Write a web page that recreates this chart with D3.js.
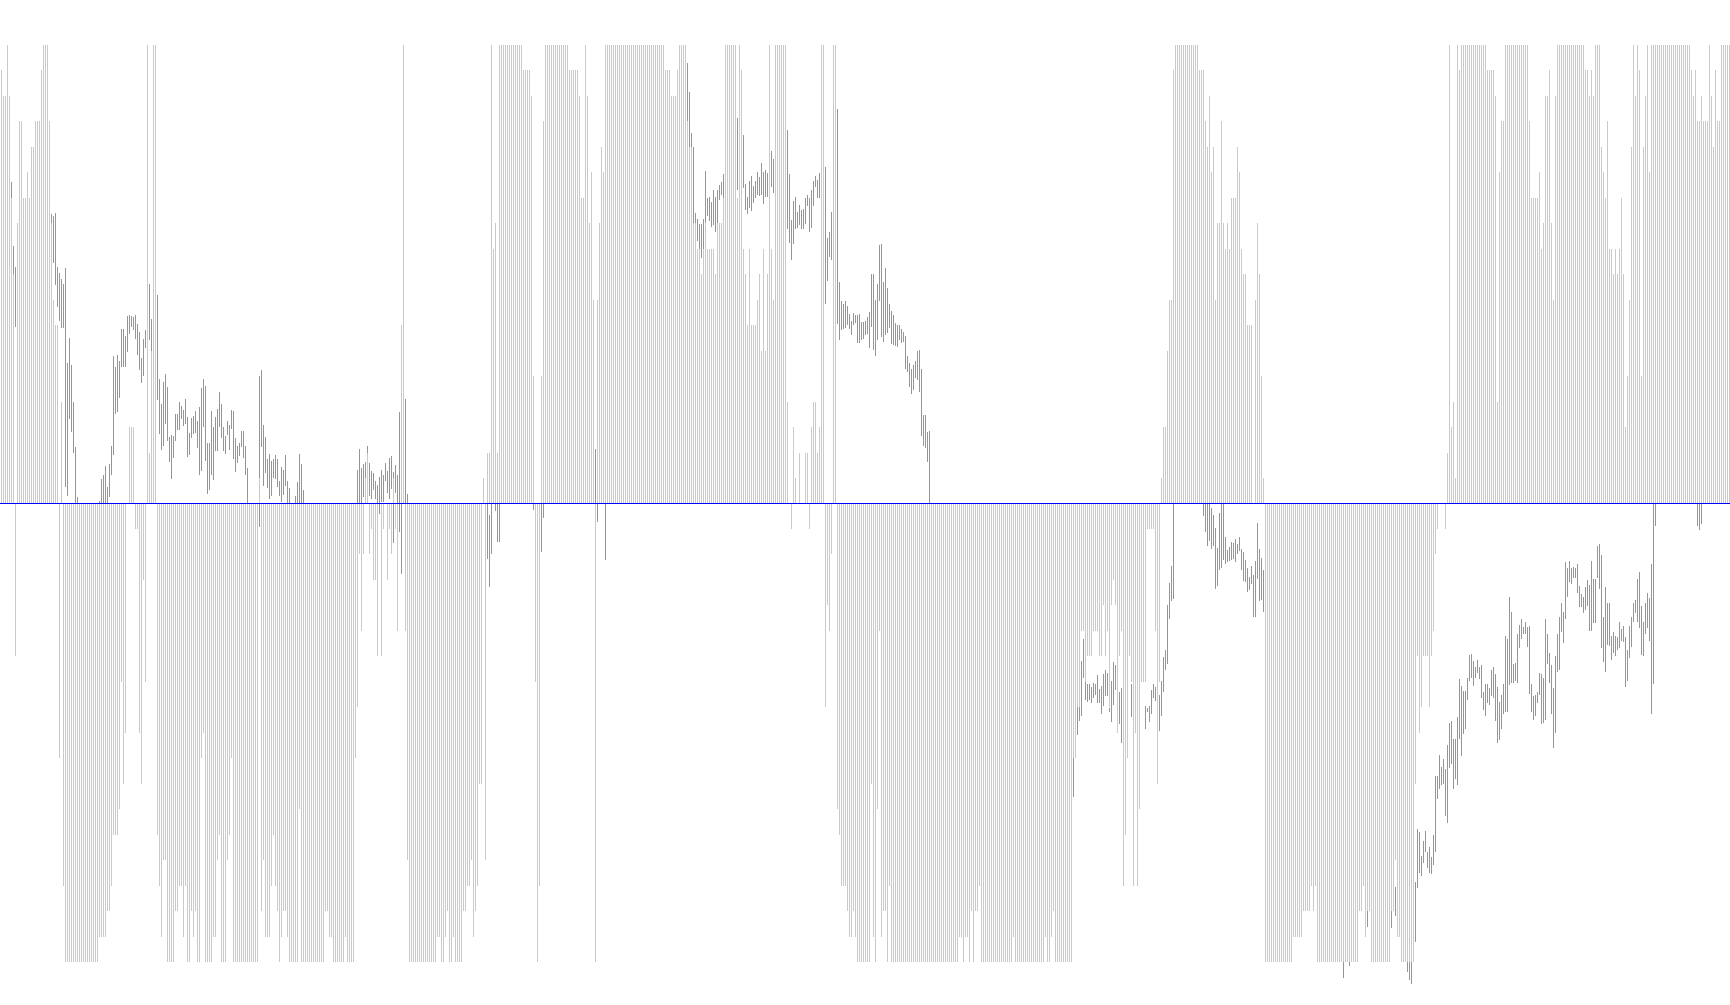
<!DOCTYPE html>
<html><head><meta charset="utf-8">
<script src="https://cdn.jsdelivr.net/npm/d3@7/dist/d3.min.js"></script>
<style>html,body{margin:0;padding:0;background:#fff;overflow:hidden}svg{display:block}</style>
</head><body><svg id="c" width="1730" height="1005"></svg>
<script>
// Histogram levels (-18..18), each block = consecutive bars from its start bar index
const histA=[17,16,16,18,16,12,9,-6,11,15,15,12,12,13,12,14,14,15,15,15,17,18,18,18,15,11,8,7,7,-10,4,-15];
const histB=[-18,-18,-18,-18,-18,-18,-18,-18,-18,-18,-18,-18,-18,-18,-18,-18,-18,-17,-17,-17,-17,-16,-16,-15,-13,-13,-13,-12,-7,-11,-9,0,3,3,3,-1,-1,-9,-11,-3,-7,18,2,6,18,18];
const histC=[-13,-15,-17,-14,-14,-18,-18,-18,-18,-16,-16,-15,-15,-17,-15,-18,-18,-16,-17,-16,-18,-18,-10,-9,-18,-18,-18,-18,-17,-17,-14,-13,-18,-18,-18,-14,-13,-10];
const histD=[-18,-18,-18,-18,-18,-18,-18,-18,-18,-18,-18,-18,-18,1,-16,-14,-17,-17,-17,-15,-13,-15,-16,-18,-17,-16,-16,-17,-18,-18,-18,-18,-18,-12,
-18,-18,-18,-18,-18,-18,-18,-18,-18,-18,-18,-18,-16,-16,-17,-17,-18,-18,-18,-18,-18,-18,-17,-18,-18,-18,-18,
-10,-8,-2,-5,-2,1,2,-2,-1,-3,-3,-6,0,-6,-1,0,-3,-1,-2,1,-1,-5,0];
const histE=[7,18,-5,-14,-18,-18,-18,-18,-18,-18,-18,-18,-18,-18,-18,-18,-18,-18,-17,-17,-18,-18,-17,-16,-18,-18,-17,-18,-18,-18,-18,-16,-16,-15,-15,-14,-17,-16,-15,-11,-11,1,-14];
const histF=[2,2,18,10,11,2,18,18,18,18,18,18,18,18,18,18,18,18,17,17,17,17,16,5,-7,-18,-15,5,15,
18,18,18,18,18,18,18,18,18,18,18,18,17,17,17,17,17,16,12,12,18,16,11,13,8,-18,8,11,14,13,
18,18,18,18,18,18,18,18,18,18,18,18,18,18,18,18,18,18,18,18,18,18,18,18,18,18,18,18,18,18,
17,17,17,16,16,16,17,18,18,18,18,15,14,14,11,11,10,10,9,10,11,10,10,10,10,9,11,11,11,12,
18,18,18,18,18,18,12,18,17,10,9,7,10,7,7,7,8,9,6,10,6,9,18,10,8,18,18,18,18,18,18,
4,0,-1,3,1,0,2,0,0,2,2,-1,3,4,4,2,3,18,18,-8,-4,-5,-2,18,18];
const histG=[-12,-13,-15,-15,-15,-16,-17,-17,-16,-17,-18,-18,-18,-18,-18,-18,-18,-11,-17,-18,-12,-5,-17,-16,-16,-18,-15,
-18,-18,-18,-18,-18,-18,-18,-18,-18,-18,-18,-18,-18,-18,-18,-18,-18,-18,-18,-18,-18,-18,-18,-18,-18,-18,-18,-18,-18,-18,-18,-18,-18,-18,
-17,-17,-18,-17,-17,-18,-16,-18,-16,-16,-15,
-18,-18,-18,-18,-18,-18,-18,-18,-18,-18,-18,-18,-18,-18,-18,-18,-17,
-18,-18,-18,-18,-18,-18,-18,-18,-18,-18,-18,-18,-18,-18,-18,-17,-18,-18,-17,-16,-18,-18,-18,-18,-18,-18,-18,-18,-18,
-10,-10,-8,-8,-5,-5,-7,-6,-6,-6,-5,-5,-5,-6,-6,-4,-6,-5,-8,-4,-3,-4,-9,-6,-5,-15,-13,-10,-6,-7,-15,-9,-15,-12,-7,-7,-7,-1,-1,-1,-1,-5,-11,-7];
const histH=[1,3,3,6,8,8,17,18,18,18,18,18,18,18,18,18,18,18,18,17,17,17,
15,14,16,13,14,8,11,11,15,11,10,11,10,12,12,12,14,13,10,9,9,7,7,7,0,8,11,9,5,1];
const histI=[-18,-18,-18,-18,-18,-18,-18,-18,-18,-18,-18,-18,-18,-18,-17,-17,-17,-17,-17,-16,-16,-16,-16,-15,-16,-15,
-18,-18,-18,-18,-18,-18,-18,-18,-18,-18,-18,-18,-18,-18,-18,-18,-18,-18,-18,-18,-18,-16,-16,-15,-17,-16,-16,
-18,-18,-18,-18,-18,-18,-18,-18,-18,-18,-16,-16,-14,-17,-17,-18,-18,-18,-18,-18,-18,-18,
-11,-6,-9,-8,-6,-6,-6,-8,-6,-5,-2,-1,0,0,0,-1];
const histJ=[2,18,3,4,1,18,17,18,18,18,18,18,18,18,18,18,18,18,18,18,17,17,17,17,16,4,13,15,15,
18,18,18,18,18,18,18,18,18,18,18,18,15,12,12,12,12,13,10,11,16,16,17,11,8,16,
18,18,18,18,18,18,18,18,18,18,18,18,18,18,17,17,16,17,16,18,18,18,
14,13,12,15,10,10,9,10,9,10,12,9,3,5,8,14,18,16,18,17,5,14,16,18,13,
18,18,18,18,18,18,18,18,18,18,18,18,18,18,18,18,18,18,18,18,
17,16,17,15,15,16,15,15,15,18,16,14,17,15,15,18,18,18,18,18];
const histBlocks=[[0,histA],[32,histB],[78,histC],[116,histD],[200,histE],[243,histF],[418,histG],[580,histH],[632,histI],[723,histJ]];

// Oscillator high/low pairs, each block = consecutive bars from its start bar index
const oscA=[[321,305],[257,228],[237,177]];
const oscB=[[289,279],[288,241],[290,218],[237,197],[231,183],[225,176],[219,176],[235,17],[141,8],[166,84],[139,72],[102,51],[57,0],[7,0]];
const oscC=[[3,0],[25,0],[29,0],[38,0],[17,0],[40,7],[58,28],[147,49],[137,90],[148,91],[143,106],[175,137],[175,137],[168,137],[187,152],[188,170],[187,177],[186,174],[188,165],[179,149],[172,134],[146,121],[165,128],[174,155]];
const oscD=[[219,164],[185,152]];
const oscE=[[209,104],[124,70],[99,53],[122,58],[130,80],[116,63],[67,42],[69,25],[68,46],[90,63],[90,74],[102,74],[98,84],[94,78],[105,80],[86,47],[71,49],[85,66],[88,70],[92,71],[83,56],[97,28],[115,33],[125,76],[117,43],[61,10],[61,13],[92,28],[76,24],[86,52],[95,52],[112,77],[100,66],[76,52],[68,50],[83,69],[79,53],[94,75],[92,44],[66,32],[58,41],[60,48],[73,57],[73,45],[58,29],[36,0]];
const oscF=[[128,-23],[134,57],[79,18],[67,31],[44,15],[50,5],[43,8],[44,26],[49,25],[44,17],[23,8],[37,2],[34,9],[49,18],[22,1],[15,0]];
const oscG=[[8,0],[21,0],[50,0],[40,0],[13,0]];
const oscH=[[34,0],[54,-17],[36,0],[40,7],[42,25],[58,50],[41,8],[33,4],[31,13],[23,4],[19,0],[27,-10],[34,2],[29,2],[41,23],[33,11],[45,4],[48,14],[32,-39],[39,11],[28,0],[91,-28],[50,-70]];
const oscI=[[105,0],[10,0]];
const oscJ=[[0,-55],[-11,-84],[0,-50]];
const oscK=[[0,-7],[0,-38],[0,-38]];
const oscL=[[0,-6]];
const oscM=[[0,-48],[0,-14]];
const oscN=[[54,-20],[0,-18]];
const oscO=[[0,-56]];
const oscP=[[440,381],[412,356],[371,356],[357,279],[291,279],[285,263],[280,254],[280,246],[285,254],[333,279],[306,288],[307,282],[302,277],[313,279],[307,272],[313,279],[319,304],[321,309],[329,305]];
const oscQ=[[385,313]];
const oscR=[[368,316],[320,294],[307,289],[322,296],[328,293],[318,301],[323,305],[331,309],[327,308],[341,309],[332,300],[334,307],[330,307]];
const oscS=[[352,317],[344,311]];
const oscT=[[374,275],[329,261],[283,244],[303,260],[307,274],[292,276],[298,279],[294,275],[295,275],[306,280],[309,297],[306,272],[313,276],[322,297],[328,317],[324,306],[330,306]];
const oscU=[[336,200],[265,223],[272,247],[292,244]];
const oscV=[[395,179],[222,164],[203,174],[200,175],[203,176],[198,178],[190,175],[183,169],[191,178],[188,181],[188,161],[190,161],[182,163],[182,165],[183,169],[186,170],[192,155],[230,177],[230,154],[204,147],[219,163],[258,203],[260,167],[222,162],[236,169],[216,171],[200,176],[193,160],[188,159],[181,158],[178,157],[178,164],[175,161],[172,162],[168,135],[147,131],[141,116],[135,110],[139,114],[143,126],[153,123],[154,112],[135,68],[89,58],[89,56],[72,42],[73,0]];
const oscW=[[-254,-293]];
const oscX=[[-203,-231],[-203,-217],[-157,-212],[-136,-174],[-178,-196],[-180,-198],[-180,-196],[-183,-199],[-179,-195],[-180,-191],[-171,-199],[-185,-199],[-182,-210],[-170,-202],[-167,-193],[-169,-192],[-204,-209],[-177,-218],[-158,-201],[-161,-186]];
const oscY=[[-188,-220],[-184,-239]];
const oscZ=[[-180,-213],[-179,-211]];
const osc1=[[-202,-225],[-204,-209],[-202,-218],[-186,-211],[-180,-194],[-183,-197],[-185,-197],[-191,-205]];
const osc2=[[-195,-227],[-178,-212],[-153,-188],[-146,-166],[-101,-160],[-79,-115],[-62,-98],[0,-95]];
const osc3=[[0,-12],[0,-28],[0,-42],[0,-37],[-5,-45],[-11,-42],[-24,-85],[-44,-83],[-9,-66],[0,-64],[0,-56],[-34,-60],[-46,-58],[-43,-57],[-38,-56],[-39,-55],[-36,-58],[-40,-50],[-34,-47],[-45,-66],[-48,-77],[-56,-78],[-65,-88],[-73,-86],[-62,-80],[-71,-113],[-57,-113],[-19,-75],[-45,-97],[-54,-96],[-66,-108]];
const osc4=[[-458,-474]];
const osc5=[[-458,-462]];
const osc6=[[-407,-423]];
const osc7=[[-407,-424]];
const osc8=[[-383,-412]];
const osc9=[[-407,-455],[-458,-468],[-458,-476],[-458,-481]];
const osc10=[[-378,-438],[-325,-384],[-328,-369],[-352,-373],[-337,-359],[-327,-348],[-348,-364],[-343,-369],[-353,-370],[-331,-361],[-273,-348],[-273,-295],[-251,-285],[-263,-281],[-255,-280],[-265,-312],[-242,-319],[-219,-264],[-217,-260],[-235,-285],[-235,-275],[-213,-281],[-175,-235],[-182,-252],[-187,-230],[-187,-225],[-174,-196],[-151,-177],[-150,-174],[-157,-182],[-164,-174],[-156,-169],[-163,-176],[-161,-195],[-188,-206],[-180,-212],[-180,-199],[-184,-201],[-167,-193],[-163,-195],[-170,-217],[-183,-239],[-198,-236],[-191,-225],[-180,-210],[-132,-209],[-135,-209],[-93,-181],[-108,-179],[-160,-179],[-159,-178],[-130,-179],[-121,-145]];
const osc11=[[-116,-136],[-123,-131],[-118,-131],[-123,-143],[-122,-190],[-180,-209],[-193,-216],[-191,-212],[-188,-199],[-169,-191],[-170,-220],[-174,-219],[-115,-216],[-130,-160],[-149,-179],[-162,-211],[-184,-244],[-152,-229],[-130,-168],[-113,-167],[-100,-129],[-108,-139],[-58,-115],[-65,-93],[-57,-78],[-64,-80],[-63,-74],[-65,-74],[-60,-89],[-83,-103],[-90,-103],[-93,-109],[-84,-106],[-76,-102],[-81,-127],[-57,-127],[-75,-119],[-75,-119],[-42,-74],[-40,-85],[-52,-145],[-113,-158],[-84,-168],[-99,-141],[-99,-142],[-132,-156],[-128,-149],[-132,-152],[-133,-146],[-118,-145],[-125,-137],[-122,-138],[-133,-183],[-146,-178],[-122,-154],[-114,-143],[-99,-118],[-96,-109],[-75,-118],[-69,-124],[-102,-151],[-118,-152],[-99,-130],[-89,-124],[-94,-137],[-60,-210],[0,-180],[0,-22]];
const osc12=[[0,-22],[0,-26],[0,-20]];
const oscBlocks=[[5,oscA],[25,oscB],[49,oscC],[74,oscD],[78,oscE],[129,oscF],[147,oscG],[178,oscH],[202,oscI],[243,oscJ],[247,oscK],[266,oscL],[270,oscM],[297,oscN],[302,oscO],[343,oscP],[368,oscQ],[371,oscR],[385,oscS],[393,oscT],[412,oscU],[418,oscV],[536,oscW],[538,oscX],[559,oscY],[565,oscZ],[572,osc1],[579,osc2],[601,osc3],[671,osc4],[674,osc5],[683,osc6],[695,osc7],[697,osc8],[702,osc9],[707,osc10],[760,osc11],[848,osc12]];

const barCount=865;
const histData=[];histBlocks.forEach(([s,a])=>a.forEach((v,k)=>histData.push({i:s+k,v})));
const oscData=[];oscBlocks.forEach(([s,a])=>a.forEach((p,k)=>oscData.push({i:s+k,hi:p[0],lo:p[1]})));

const x=d3.scaleLinear().domain([0,barCount-1]).range([1,1729]);
const yHist=d3.scaleLinear().domain([-18,18]).range([962,45]);
const yOsc=d3.scaleLinear().domain([-458.5,458.5]).range([962,45]);
const svg=d3.select('#c').attr('shape-rendering','crispEdges');
const zero=Math.round(yHist(0));

svg.append('g').attr('fill','#00ff00').selectAll('rect').data(oscData).join('rect')
 .attr('x',d=>x(d.i)).attr('width',1)
 .attr('y',d=>Math.round(yOsc(d.hi)))
 .attr('height',d=>Math.max(1,Math.round(yOsc(d.lo))-Math.round(yOsc(d.hi))));

svg.append('g').attr('fill','#ffd700').selectAll('rect').data(histData.filter(d=>d.v!==0)).join('rect')
 .attr('x',d=>x(d.i)).attr('width',1)
 .attr('y',d=>d.v>0?Math.round(yHist(d.v)):zero)
 .attr('height',d=>Math.abs(Math.round(yHist(d.v))-zero));

svg.append('line').attr('x1',0).attr('x2',1730).attr('y1',yHist(0)).attr('y2',yHist(0)).attr('stroke','#0000ff').attr('stroke-width',1);
</script></body></html>
